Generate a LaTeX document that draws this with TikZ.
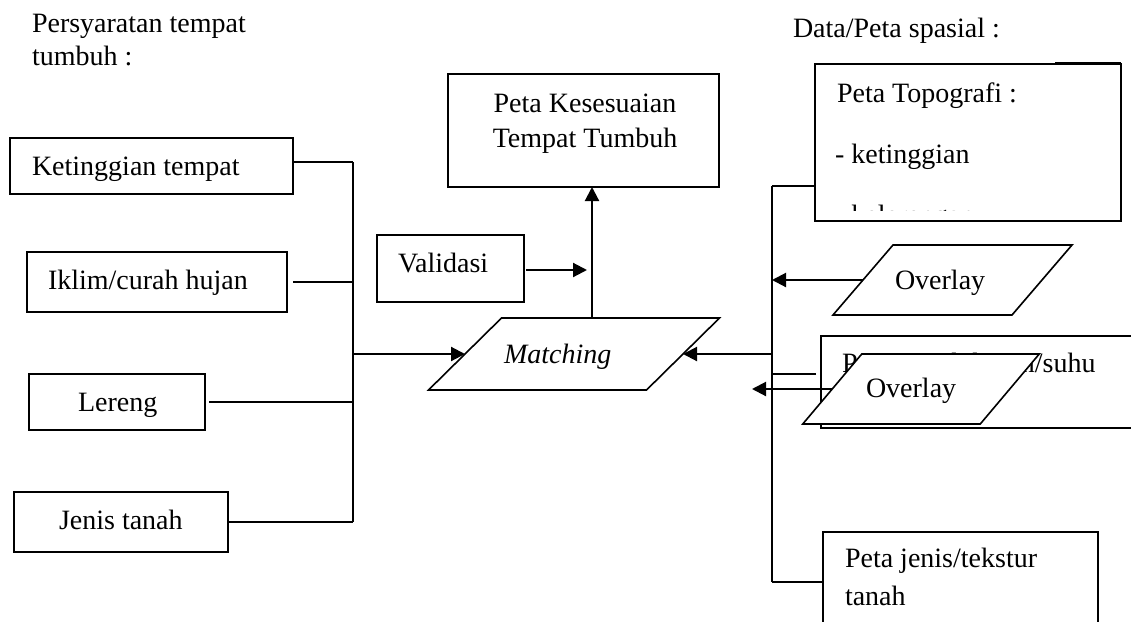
\documentclass[tikz,border=0pt]{standalone}
\usepackage{fontspec}
\setmainfont{Liberation Serif}
\usetikzlibrary{arrows.meta}
% slanted input/output box drawn round a named node: #1 node, #2 half of the slant offset
\newcommand\slantbox[2]{%
  \draw[line width=1.2pt, fill=white]
    ([xshift=-#2*0.75pt]#1.south west) -- ([xshift=#2*0.75pt]#1.north west)
    -- ([xshift=#2*0.75pt]#1.north east) -- ([xshift=-#2*0.75pt]#1.south east) -- cycle;}
\begin{document}
\begin{tikzpicture}[x=0.75pt,y=-0.75pt,
  every node/.style={font=\fontsize{21}{25.5}\selectfont, inner sep=0pt, outer sep=0pt},
  frame/.style={draw, line width=1.2pt, fill=white},
  sized/.style 2 args={minimum width=#1*0.75pt, minimum height=#2*0.75pt},
  label/.style={anchor=base west},
  link/.style={line width=1.2pt},
  arr/.style={line width=1.6pt, -{Triangle[length=10.5pt,width=10.5pt]}}
]
\useasboundingbox (0,0) rectangle (1131,621);

% headings
\node[label] (hL1) at (32,32) {Persyaratan tempat};
\node[label] (hL2) at (32,65) {tumbuh :};
\node[label] (hR) at (793,37) {Data/Peta spasial :};

% growth requirement boxes
\node[frame, sized={283}{56}] (ket) at (151.5,166) {};
\node[label] (tket) at (32,175) {Ketinggian tempat};
\node[frame, sized={260}{60}] (ikl) at (157,282) {};
\node[label] (tikl) at (48,289) {Iklim/curah hujan};
\node[frame, sized={176}{56}] (ler) at (117,402) {};
\node[label] (tler) at (78,411) {Lereng};
\node[frame, sized={214}{60}] (jen) at (121,522) {};
\node[label] (tjen) at (59,529) {Jenis tanah};

% left bus
\coordinate (busT) at (353,162);
\coordinate (busM) at (353,354);
\coordinate (busB) at (353,522);
\draw[link] (ket.east |- busT) -- (busT);
\draw[link] ([xshift=6*0.75pt]ikl.east) -- (ikl.east -| busT);
\draw[link] ([xshift=4*0.75pt]ler.east) -- (ler.east -| busT);
\draw[link] (jen.east) -- (busB);
\draw[link] (busT) -- (busB);

% matching, validation and result
\node[sized={218}{72}] (match) at (574,354) {};
\slantbox{match}{36.5}
\node[label] (tmatch) at (504,363) {\itshape Matching};
\node[frame, sized={147}{67}] (val) at (450.5,268.5) {};
\node[label] (tval) at (398,272) {Validasi};
\node[frame, sized={271}{113}] (kes) at (583.5,130.5) {};
\node[anchor=base] (tkes1) at (585,112) {Peta Kesesuaian};
\node[anchor=base] (tkes2) at (585,147) {Tempat Tumbuh};

\coordinate (up) at (592,0);
\draw[arr] (busM) -- (match.west);
\draw[arr] (match.north -| up) -- (up |- kes.south);
\draw[arr] ([xshift=2*0.75pt]val.east |- 0,270) -- ([xshift=-5*0.75pt]up |- 0,270);

% spatial data maps
\node[frame, sized={306}{157}] (topo) at (968,142.5) {};
\draw[link] (1055,63) -- (1121,63);
\node[label] (ttopo1) at (837,102) {Peta Topografi :};
\node[label] (ttopo2) at (835,163) {- ketinggian};
\begin{scope}
  \clip (816,190) rectangle (1120,210);
  \node[label] (ttopo3) at (835,224) {- kelerengan};
\end{scope}

\node[frame, sized={339}{92}] (curah) at (990.5,382) {};
\node[label] (tcurah) at (842,372) {Peta Curah hujan/suhu};
\node[frame, sized={275}{108}] (jenmap) at (960.5,586) {};
\node[label] (tjm1) at (845,567) {Peta jenis/tekstur};
\node[label] (tjm2) at (845,605) {tanah};

\node[sized={179}{70}] (ov1) at (952.5,280) {};
\slantbox{ov1}{30}
\node[label] (tov1) at (895,289) {Overlay};
\node[sized={177.5}{70}] (ov2) at (921,389) {};
\slantbox{ov2}{29.5}
\node[label] (tov2) at (866,397) {Overlay};

% right bus
\coordinate (rbT) at (772,186);
\coordinate (rbM) at (772,354);
\coordinate (rbB) at (772,582);
\draw[link] (rbT) -- (rbB);
\draw[link] (topo.west |- rbT) -- (rbT);
\draw[link] ([xshift=-5*0.75pt]curah.west |- 0,374) -- (rbM |- 0,374);
\draw[link] (jenmap.west |- rbB) -- (rbB);
\draw[arr] (ov1.west) -- (ov1.west -| rbT);
\draw[arr] (ov2.west) -- (752,389);
\draw[arr] (rbM) -- (match.east);
\end{tikzpicture}
\end{document}
